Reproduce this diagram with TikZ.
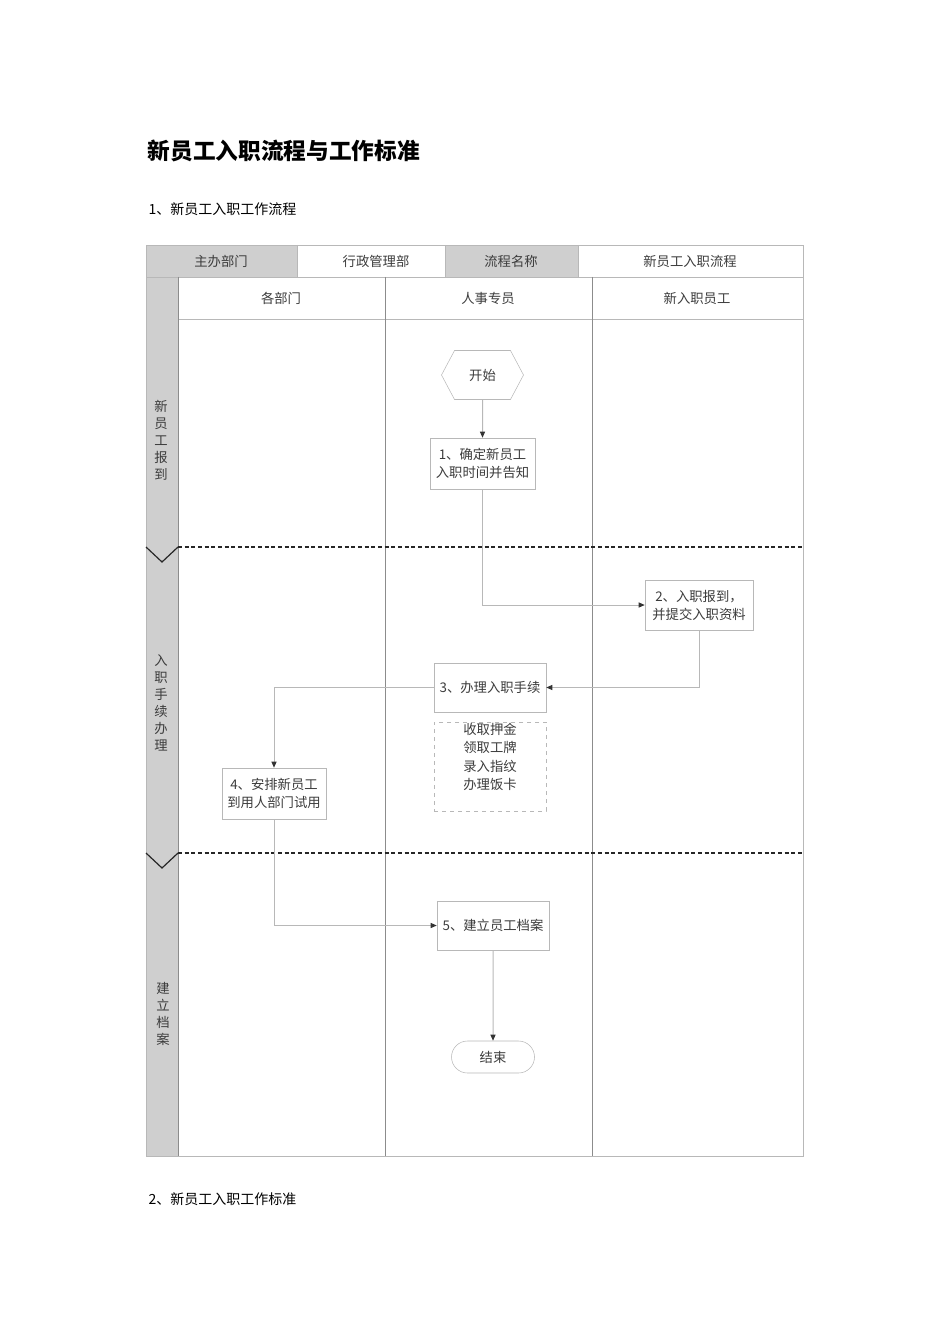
\documentclass[tikz,border=0pt]{standalone}
\usepackage{fontspec}
\setmainfont{Noto Sans CJK SC}
\usepackage{xcolor}
\usetikzlibrary{shapes,arrows,positioning,calc,arrows.meta,shapes.symbols,shapes.misc}
\newdimen\pxu \pxu=0.75pt
\definecolor{lanegray}{HTML}{CFCFCF}
\definecolor{linegray}{HTML}{B8B8B8}
\definecolor{txtgray}{HTML}{3C3C3C}

\begin{document}
\begin{tikzpicture}[x=0.75pt, y=-0.75pt,
    every node/.style={font=\fontsize{10}{13.5}\selectfont, text=txtgray},
    stepbox/.style={draw=linegray, fill=white, align=center, inner sep=0pt},
    hexa/.style={signal, signal to=east and west, signal pointer angle=124, draw=linegray,
        minimum width=82\pxu, minimum height=49\pxu, inner sep=0pt},
    flow/.style={draw=linegray, line width=1\pxu, -{Triangle[length=4.5pt, width=3.75pt, color=black!80]}},
    phase/.style={align=center, font=\fontsize{10}{12.75}\selectfont},
    phasesep/.style={densely dashed, line width=1.2\pxu, black!85},
    chevron/.style={line width=1.2\pxu, black!85}]
    \useasboundingbox (0,0) rectangle (950,1344);

    % Headings
    \node[anchor=west, font=\fontsize{17}{20}\selectfont\bfseries, text=black] (title) at (143,151) {新员工入职流程与工作标准};
    \node[anchor=west, font=\fontsize{10.5}{12}\selectfont, text=black] (secA) at (144,209) {1、新员工入职工作流程};
    \node[anchor=west, font=\fontsize{10.5}{12}\selectfont, text=black] (secB) at (144,1199) {2、新员工入职工作标准};

    % Table
    \fill[lanegray] (146,245) rectangle (297,277);
    \fill[lanegray] (445,245) rectangle (578,277);
    \fill[lanegray] (146,277) rectangle (178,1156);
    \draw[linegray] (146,245) rectangle (803,1156);
    \draw[linegray] (146,277) -- (803,277);
    \draw[linegray] (297,245) -- (297,277);
    \draw[linegray] (445,245) -- (445,277);
    \draw[linegray] (578,245) -- (578,277);
    \draw[linegray] (178,319) -- (803,319);
    \draw[black!45] (178,277) -- (178,1156);
    \draw[black!45] (385,277) -- (385,1156);
    \draw[black!45] (592,277) -- (592,1156);

    \node (host) at (221,261) {主办部门};
    \node (hostval) at (376,261) {行政管理部};
    \node (procname) at (511,261) {流程名称};
    \node (procval) at (690,261) {新员工入职流程};
    \node (deptlane) at (281,298) {各部门};
    \node (hrlane) at (488,298) {人事专员};
    \node (newlane) at (697,298) {新入职员工};

    % Phases
    \node[phase] (phaseA) at (161,440) {新\\员\\工\\报\\到};
    \node[phase] (phaseB) at (161,703) {入\\职\\手\\续\\办\\理};
    \node[phase] (phaseC) at (163,1014) {建\\立\\档\\案};
    \draw[phasesep] (178,547) -- (803,547);
    \draw[phasesep] (178,853) -- (803,853);
    \draw[chevron] (146,547) -- (162,562) -- (178,547);
    \draw[chevron] (146,853) -- (162,868) -- (178,853);

    % Steps
    \node[hexa] (start) at (482.5,375) {开始};
    \node[stepbox, minimum width=105\pxu, minimum height=51\pxu] (box1) at (482.5,463.5) {1、确定新员工\\入职时间并告知};
    \node[stepbox, minimum width=108\pxu, minimum height=50\pxu] (box2) at (699,605) {2、入职报到，\\并提交入职资料};
    \node[stepbox, minimum width=112\pxu, minimum height=49\pxu] (box3) at (490,687.5) {3、办理入职手续};
    \node[stepbox, dashed, minimum width=112\pxu, minimum height=89\pxu] (notes) at (490,766.5) {};
    \node[align=center, font=\fontsize{10}{13.7}\selectfont] (notestext) at (490,757) {收取押金\\领取工牌\\录入指纹\\办理饭卡};
    \node[stepbox, minimum width=104\pxu, minimum height=51\pxu] (box4) at (274,793.5) {4、安排新员工\\到用人部门试用};
    \node[stepbox, minimum width=112\pxu, minimum height=49\pxu] (box5) at (493,925.5) {5、建立员工档案};
    \node[stepbox, rounded rectangle, minimum width=83\pxu, minimum height=32\pxu] (stop) at (493,1057) {结束};

    % Connectors
    \draw[flow] (start) -- (box1);
    \draw[flow] (box1) |- (box2);
    \draw[flow] (box2) |- (box3);
    \draw[flow] (box3) -| (box4);
    \draw[flow] (box4) |- (box5);
    \draw[flow] (box5) -- (stop);
\end{tikzpicture}
\end{document}
